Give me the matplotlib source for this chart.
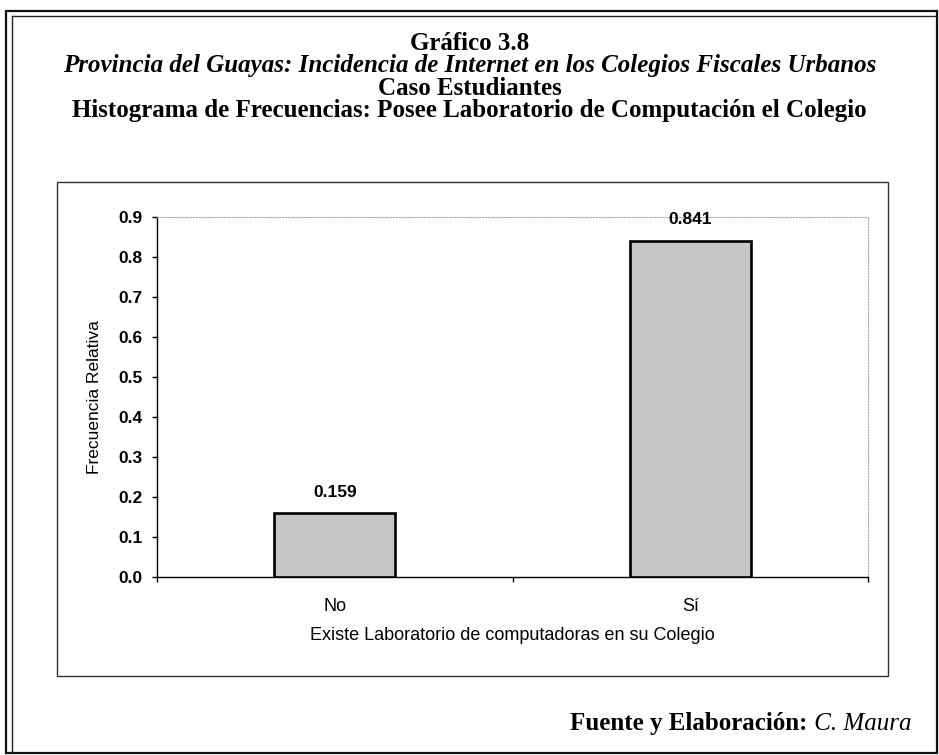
import numpy as np
import matplotlib
matplotlib.use('Agg')
from matplotlib import pyplot as plt
from matplotlib.patches import Rectangle
from matplotlib.lines import Line2D
from matplotlib.ticker import FormatStrFormatter

# data
categories = ['No', 'Sí']
rel_freq = [0.159, 0.841]
bar_labels = ['0.159', '0.841']
y_ticks = [0.0, 0.1, 0.2, 0.3, 0.4, 0.5, 0.6, 0.7, 0.8, 0.9]

title_lines = [
    ('Gráfico 3.8', 'normal'),
    ('Provincia del Guayas: Incidencia de Internet en los Colegios Fiscales Urbanos', 'italic'),
    ('Caso Estudiantes', 'normal'),
    ('Histograma de Frecuencias: Posee Laboratorio de Computación el Colegio', 'normal'),
]

W, H = 939, 755
SANS = 'Liberation Sans'
SERIF = 'Liberation Serif'


def fx(px):
    return px / W


def fy(py):
    return 1 - py / H


fig = plt.figure(figsize=(W / 100, H / 100), dpi=100)
fig.patch.set_facecolor('white')

# page frame (double line on left/top like the scan)
fig.add_artist(Rectangle((fx(6), fy(753)), fx(931), 742 / H, transform=fig.transFigure,
                         fill=False, edgecolor='#111111', linewidth=1.6))
fig.add_artist(Line2D([fx(12), fx(12)], [fy(16), fy(753)], transform=fig.transFigure,
                      color='#222222', linewidth=1.0))
fig.add_artist(Line2D([fx(12), fx(937)], [fy(16), fy(16)], transform=fig.transFigure,
                      color='#222222', linewidth=1.0))

# chart area box
fig.add_artist(Rectangle((fx(57), fy(676)), 831 / W, 494 / H, transform=fig.transFigure,
                         fill=False, edgecolor='#333333', linewidth=1.0))

# titles
for (txt, style), base in zip(title_lines, [50, 72, 95, 117]):
    fig.text(0.5, fy(base), txt, ha='center', va='baseline', family=SERIF,
             weight='bold', style=style, fontsize=18)

# plot
ax = fig.add_axes([fx(157), fy(577), 711 / W, 360 / H])
x = np.arange(len(categories))
ax.bar(x, rel_freq, width=0.34, color='#c6c6c6', edgecolor='black', linewidth=1.9, zorder=3)

for xi, v, lbl in zip(x, rel_freq, bar_labels):
    ax.annotate(lbl, (xi, v), xytext=(0, 15), textcoords='offset points',
                ha='center', va='center', family=SANS, weight='bold',
                fontsize=12.5, zorder=4)

ax.set_xlim(-0.5, 1.5)
ax.set_ylim(0, 0.9)
ax.set_yticks(y_ticks)
ax.yaxis.set_major_formatter(FormatStrFormatter('%.1f'))
ax.set_xticks(x)
ax.set_xticklabels(categories)
ax.set_xticks([-0.5, 0.5, 1.5], minor=True)

ax.tick_params(axis='y', direction='out', length=3.6, width=1, pad=6.5, labelsize=12.5)
ax.tick_params(axis='x', which='major', length=0, pad=15, labelsize=13)
ax.tick_params(axis='x', which='minor', direction='out', length=3.6, width=1)
for lab in ax.get_xticklabels() + ax.get_yticklabels():
    lab.set_family(SANS)
for lab in ax.get_yticklabels():
    lab.set_weight('bold')

for side in ['top', 'right']:
    ax.spines[side].set_color('#a8a8a8')
    ax.spines[side].set_linestyle((0, (1, 1.5)))
    ax.spines[side].set_linewidth(0.8)
for side in ['left', 'bottom']:
    ax.spines[side].set_color('black')
    ax.spines[side].set_linewidth(1.0)

ax.set_xlabel('Existe Laboratorio de computadoras en su Colegio', family=SANS, fontsize=13)
ax.xaxis.set_label_coords(0.5, -0.14)
ax.set_ylabel('Frecuencia Relativa', family=SANS, fontsize=12.5)
ax.yaxis.set_label_coords(-0.078, 0.5)

# source note
t2 = fig.text(fx(911), fy(730), ' C. Maura', ha='right', va='baseline', family=SERIF,
              style='italic', fontsize=18)
ax.annotate('Fuente y Elaboración:', xy=(0, 0), xycoords=t2, ha='right', va='bottom',
            family=SERIF, weight='bold', fontsize=18, annotation_clip=False)

fig.savefig('out.png', dpi=100)
